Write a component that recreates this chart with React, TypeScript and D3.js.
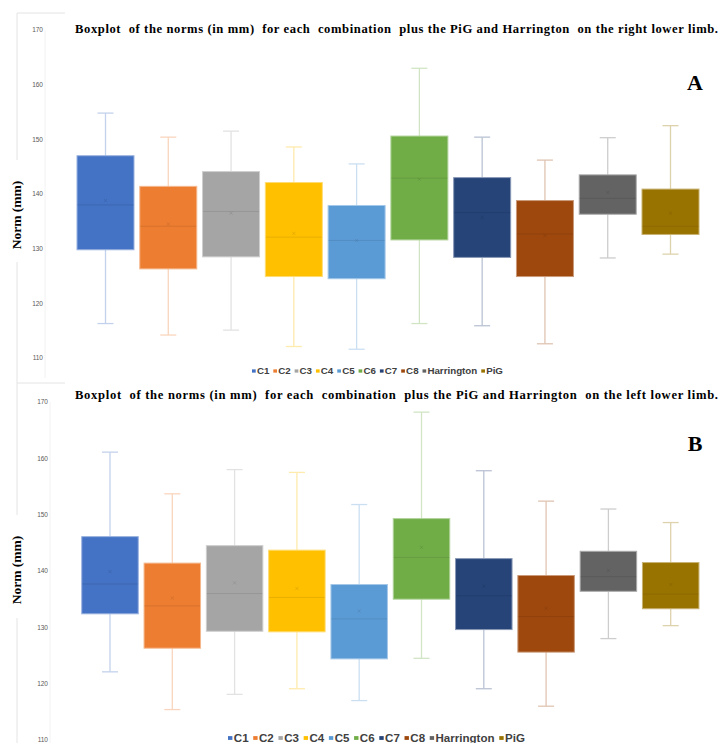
import React, { useEffect, useRef } from "react";
import * as d3 from "d3";

const categories = ["C1", "C2", "C3", "C4", "C5", "C6", "C7", "C8", "Harrington", "PiG"];
const colors = ["#4472C4", "#ED7D31", "#A5A5A5", "#FFC000", "#5B9BD5", "#70AD47", "#264478", "#9E480E", "#636363", "#997300"];
const yTicks = [110, 120, 130, 140, 150, 160, 170];

// Right lower limb (A)
const rightMin = [116.3, 114.2, 115.1, 112.1, 111.6, 116.3, 115.9, 112.6, 128.3, 129.0];
const rightQ1 = [129.8, 126.3, 128.5, 124.9, 124.5, 131.6, 128.4, 124.9, 136.3, 132.6];
const rightMedian = [138.0, 134.1, 136.8, 132.1, 131.5, 142.9, 136.6, 132.7, 139.2, 134.1];
const rightQ3 = [147.0, 141.4, 144.1, 142.1, 137.9, 150.6, 143.0, 138.8, 143.5, 140.9];
const rightMax = [154.8, 150.4, 151.5, 148.6, 145.5, 163.0, 150.4, 146.2, 150.3, 152.5];
const rightMean = [138.8, 134.5, 136.5, 132.8, 131.5, 142.7, 135.7, 132.4, 140.3, 136.5];

// Left lower limb (B)
const leftMin = [122.1, 115.4, 118.1, 119.1, 117.0, 124.5, 119.1, 116.0, 128.0, 130.3];
const leftQ1 = [132.4, 126.3, 129.3, 129.2, 124.4, 135.0, 129.6, 125.6, 136.4, 133.3];
const leftMedian = [137.7, 133.8, 136.0, 135.3, 131.5, 142.4, 135.6, 131.9, 139.0, 135.9];
const leftQ3 = [146.1, 141.4, 144.5, 143.7, 137.6, 149.3, 142.2, 139.2, 143.5, 141.5];
const leftMax = [161.1, 153.7, 158.0, 157.5, 151.8, 168.2, 157.8, 152.4, 151.0, 148.6];
const leftMean = [139.9, 135.2, 137.9, 136.9, 132.9, 144.2, 137.3, 133.4, 140.1, 137.6];

const titleRight = "Boxplot  of the norms (in mm)  for each  combination  plus the PiG and Harrington  on the right lower limb.";
const titleLeft = "Boxplot  of the norms (in mm)  for each  combination  plus the PiG and Harrington  on the left lower limb.";

const panels = [
  {
    title: titleRight, letter: "A",
    min: rightMin, q1: rightQ1, med: rightMedian, q3: rightQ3, max: rightMax, mean: rightMean,
    yTop: 30, yBot: 358, xFirst: 105.5, xLast: 670.5, boxW: 57, tickX: 43, axisX: 45,
    titleY: 33, letterY: 90, legendY: 371, legendX0: 252, legendX1: 503, legendFont: 8.6,
    frameY: 13, labelY: 215, gap: [160, 262], frameEnd: 383,
  },
  {
    title: titleLeft, letter: "B",
    min: leftMin, q1: leftQ1, med: leftMedian, q3: leftQ3, max: leftMax, mean: leftMean,
    yTop: 402, yBot: 740, xFirst: 110, xLast: 670.7, boxW: 56.5, tickX: 48, axisX: 50,
    titleY: 399, letterY: 451, legendY: 738, legendX0: 228, legendX1: 525, legendFont: 10,
    frameY: 383, labelY: 570, gap: [515, 618], frameEnd: 743,
  },
];

export default function App() {
  const ref = useRef<SVGSVGElement>(null);

  useEffect(() => {
    const svg = d3.select(ref.current);
    svg.selectAll("*").remove();
    svg.append("rect").attr("width", 721).attr("height", 743).attr("fill", "#fff");

    panels.forEach((p) => {
      const g = svg.append("g");
      const y = d3.scaleLinear().domain([110, 170]).range([p.yBot, p.yTop]);
      const x = d3.scalePoint<string>().domain(categories).range([p.xFirst, p.xLast]);

      // frame lines
      g.append("line").attr("x1", 17).attr("x2", 65).attr("y1", p.frameY).attr("y2", p.frameY)
        .attr("stroke", "#e4e4e4").attr("stroke-width", 1);
      g.append("line").attr("x1", 17).attr("x2", 17).attr("y1", p.frameY).attr("y2", p.gap[0])
        .attr("stroke", "#e4e4e4").attr("stroke-width", 1);
      g.append("line").attr("x1", 17).attr("x2", 17).attr("y1", p.gap[1]).attr("y2", p.frameEnd)
        .attr("stroke", "#e4e4e4").attr("stroke-width", 1);
      // axis line
      g.append("line").attr("x1", p.axisX).attr("x2", p.axisX).attr("y1", p.yTop).attr("y2", p.yBot + 20)
        .attr("stroke", "#f2f2f2").attr("stroke-width", 1);

      // tick labels
      g.selectAll("text.tick").data(yTicks).enter().append("text")
        .attr("class", "tick")
        .attr("x", p.tickX).attr("y", (d) => y(d)).attr("dy", "0.35em")
        .attr("text-anchor", "end")
        .attr("font-family", "Arial, 'Liberation Sans', sans-serif")
        .attr("font-size", 6.5).attr("fill", "#595959")
        .text((d) => String(d));

      // y label
      g.append("text")
        .attr("transform", `translate(21,${p.labelY}) rotate(-90)`)
        .attr("text-anchor", "middle")
        .attr("font-family", "'Liberation Serif', 'Times New Roman', serif")
        .attr("font-weight", "bold").attr("font-size", 13.5).attr("fill", "#000")
        .text("Norm (mm)");

      // title
      g.append("text")
        .attr("x", 75).attr("y", p.titleY)
        .attr("textLength", 643).attr("lengthAdjust", "spacing")
        .style("white-space", "pre")
        .attr("font-family", "'Liberation Serif', 'Times New Roman', serif")
        .attr("font-weight", "bold").attr("font-size", 12.6).attr("fill", "#000")
        .text(p.title);

      // panel letter
      g.append("text")
        .attr("x", 695).attr("y", p.letterY).attr("text-anchor", "middle")
        .attr("font-family", "'Liberation Serif', 'Times New Roman', serif")
        .attr("font-weight", "bold").attr("font-size", 22).attr("fill", "#000")
        .text(p.letter);

      // boxes
      categories.forEach((c, i) => {
        const cx = x(c) as number;
        const col = colors[i];
        const bw = p.boxW;
        const capW = 16;
        const wc = d3.color(col) as d3.RGBColor;
        const light = d3.interpolateRgb(col, "#ffffff")(0.68);
        // whiskers
        g.append("line").attr("x1", cx).attr("x2", cx).attr("y1", y(p.max[i])).attr("y2", y(p.q3[i]))
          .attr("stroke", light).attr("stroke-width", 1.3);
        g.append("line").attr("x1", cx).attr("x2", cx).attr("y1", y(p.q1[i])).attr("y2", y(p.min[i]))
          .attr("stroke", light).attr("stroke-width", 1.3);
        g.append("line").attr("x1", cx - capW / 2).attr("x2", cx + capW / 2).attr("y1", y(p.max[i])).attr("y2", y(p.max[i]))
          .attr("stroke", light).attr("stroke-width", 1.3);
        g.append("line").attr("x1", cx - capW / 2).attr("x2", cx + capW / 2).attr("y1", y(p.min[i])).attr("y2", y(p.min[i]))
          .attr("stroke", light).attr("stroke-width", 1.3);
        // box
        g.append("rect")
          .attr("x", cx - bw / 2).attr("y", y(p.q3[i]))
          .attr("width", bw).attr("height", y(p.q1[i]) - y(p.q3[i]))
          .attr("fill", col)
          .attr("stroke", d3.interpolateRgb(col, "#ffffff")(0.45)).attr("stroke-width", 1);
        // median
        const dark = wc.darker(0.6).formatHex();
        g.append("line").attr("x1", cx - bw / 2 + 0.5).attr("x2", cx + bw / 2 - 0.5)
          .attr("y1", y(p.med[i])).attr("y2", y(p.med[i]))
          .attr("stroke", dark).attr("stroke-opacity", 0.45).attr("stroke-width", 1);
        // mean marker x
        const my = y(p.mean[i]);
        const s = 1.6;
        g.append("path")
          .attr("d", `M${cx - s},${my - s}L${cx + s},${my + s}M${cx - s},${my + s}L${cx + s},${my - s}`)
          .attr("stroke", dark).attr("stroke-opacity", 0.55).attr("stroke-width", 0.8).attr("fill", "none");
      });

      // legend
      const lg = g.append("g");
      let cur = 0;
      const fs = p.legendFont;
      const m = fs * 0.38;
      categories.forEach((c, i) => {
        lg.append("rect").attr("x", cur).attr("y", -m / 2).attr("width", m).attr("height", m).attr("fill", colors[i]);
        cur += m + fs * 0.12;
        const t = lg.append("text").attr("x", cur).attr("y", 0).attr("dy", "0.35em")
          .attr("font-family", "Arial, 'Liberation Sans', sans-serif")
          .attr("font-weight", "bold").attr("font-size", fs).attr("fill", "#404040")
          .text(c);
        const w = (t.node() as SVGTextElement).getComputedTextLength();
        cur += w + fs * 0.4;
      });
      const total = cur - fs * 0.4;
      const sc = (p.legendX1 - p.legendX0) / total;
      lg.attr("transform", `translate(${p.legendX0},${p.legendY}) scale(${sc},1)`);
    });
  }, []);

  return (
    <svg ref={ref} width={721} height={743} style={{ position: "absolute", left: 0, top: 0, display: "block" }} />
  );
}
